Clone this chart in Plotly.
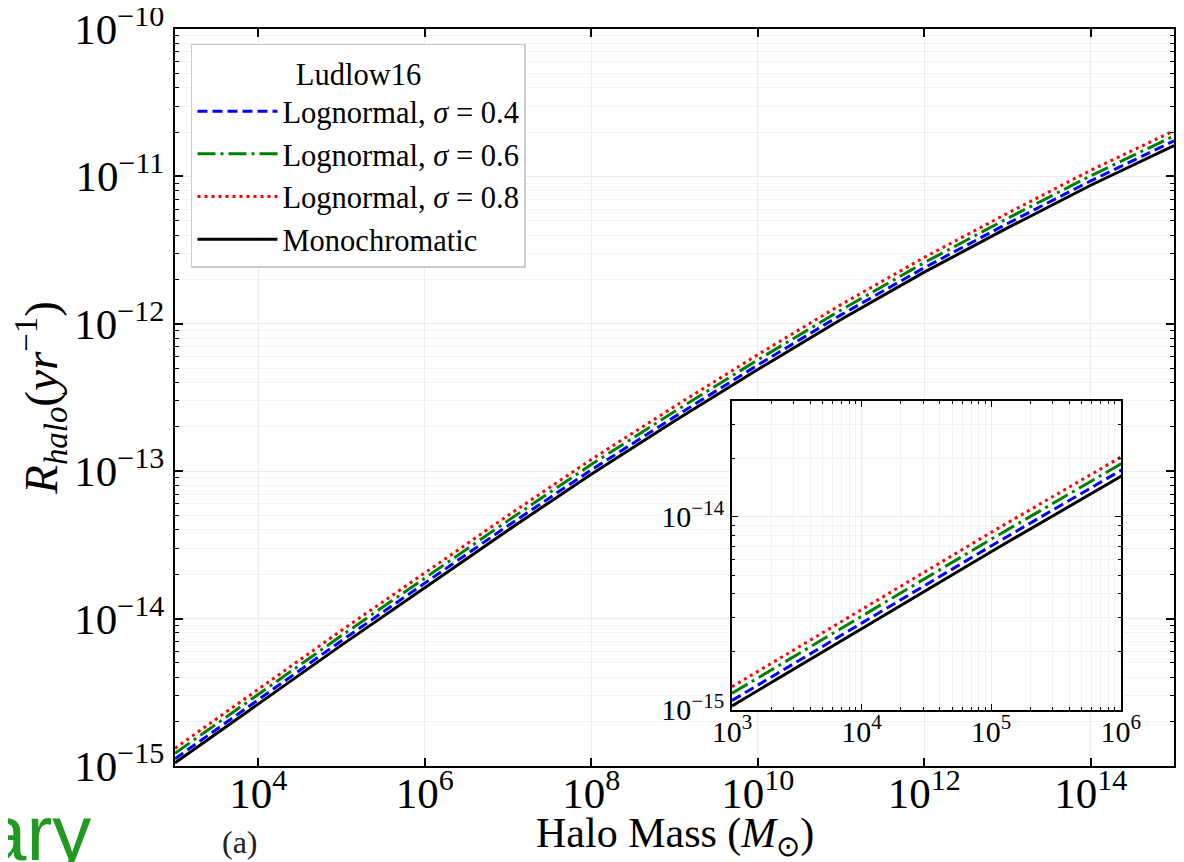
import plotly.graph_objects as go

# ---------------- data ----------------
halo_mass = [1e3, 1e4, 1e5, 1e6, 1e7, 1e8, 1e9, 1e10, 1e11, 1e12, 1e13, 1e14, 1e15]
rate_lognormal_04 = [1.12e-15, 2.82e-15, 7.08e-15, 1.74e-14, 4.27e-14, 1.02e-13, 2.34e-13,
                     5.25e-13, 1.15e-12, 2.40e-12, 4.79e-12, 9.33e-12, 1.74e-11]
rate_lognormal_06 = [1.22e-15, 3.05e-15, 7.67e-15, 1.88e-14, 4.62e-14, 1.11e-13, 2.54e-13,
                     5.69e-13, 1.24e-12, 2.60e-12, 5.19e-12, 1.01e-11, 1.88e-11]
rate_lognormal_08 = [1.32e-15, 3.31e-15, 8.32e-15, 2.04e-14, 5.01e-14, 1.20e-13, 2.75e-13,
                     6.17e-13, 1.35e-12, 2.82e-12, 5.62e-12, 1.10e-11, 2.04e-11]
rate_mono = [1.05e-15, 2.63e-15, 6.61e-15, 1.62e-14, 3.98e-14, 9.55e-14, 2.19e-13,
             4.90e-13, 1.07e-12, 2.24e-12, 4.47e-12, 8.71e-12, 1.62e-11]

series_names = ["Lognormal, <i>σ</i> = 0.4", "Lognormal, <i>σ</i> = 0.6",
                "Lognormal, <i>σ</i> = 0.8", "Monochromatic"]
legend_title = "Ludlow16"
x_title = "Halo Mass (<i>M</i><sub>⊙</sub>)"
y_title = "<i>R</i><sub><i>halo</i></sub>(<i>yr</i><sup>−1</sup>)"

main_xtick_vals = [1e4, 1e6, 1e8, 1e10, 1e12, 1e14]
main_xtick_text = ["10<sup>4</sup>", "10<sup>6</sup>", "10<sup>8</sup>",
                   "10<sup>10</sup>", "10<sup>12</sup>", "10<sup>14</sup>"]
main_ytick_vals = [1e-15, 1e-14, 1e-13, 1e-12, 1e-11, 1e-10]
main_ytick_text = ["10<sup>−15</sup>", "10<sup>−14</sup>", "10<sup>−13</sup>",
                   "10<sup>−12</sup>", "10<sup>−11</sup>", "10<sup>−10</sup>"]
inset_xtick_vals = [1e3, 1e4, 1e5, 1e6]
inset_xtick_text = ["10<sup>3</sup>", "10<sup>4</sup>", "10<sup>5</sup>", "10<sup>6</sup>"]
inset_ytick_vals = [1e-15, 1e-14]
inset_ytick_text = ["10<sup>−15</sup>", "10<sup>−14</sup>"]

# minor tick positions (2..9 x 10^n)
main_y_minor = [k * 10.0 ** n for n in range(-15, -10) for k in range(2, 10)]
inset_x_minor = [k * 10.0 ** n for n in range(3, 6) for k in range(2, 10)]
inset_y_minor = [k * 10.0 ** n for n in range(-15, -13) for k in range(2, 10)]

# ---------------- styles ----------------
FONT = "Liberation Serif"
styles = [
    dict(color="#0000ff", width=3, dash="10px,5px"),
    dict(color="#008000", width=3, dash="18px,5px,3px,5px"),
    dict(color="#ff0000", width=3, dash="3px,4px"),
    dict(color="#000000", width=3, dash="solid"),
]
series = [rate_lognormal_04, rate_lognormal_06, rate_lognormal_08, rate_mono]

fig = go.Figure()
for name, ys, st in zip(series_names, series, styles):
    fig.add_trace(go.Scatter(x=halo_mass, y=ys, mode="lines", name=name, line=st,
                             xaxis="x", yaxis="y", showlegend=True))
for name, ys, st in zip(series_names, series, styles):
    fig.add_trace(go.Scatter(x=halo_mass, y=ys, mode="lines", name=name, line=st,
                             xaxis="x2", yaxis="y2", showlegend=False))

grid_major = "#ececec"
grid_minor = "#f3f3f3"

fig.update_layout(
    width=1184, height=862,
    margin=dict(l=167, r=18, t=21, b=104),
    paper_bgcolor="white", plot_bgcolor="white",
    font=dict(family=FONT, color="black"),
    showlegend=True,
    legend=dict(
        x=0.016, y=0.98, xanchor="left", yanchor="top",
        bgcolor="rgba(255,255,255,0.85)", bordercolor="#cccccc", borderwidth=1.5,
        font=dict(family=FONT, size=30.5, color="black"),
        title=dict(text=legend_title, side="top center",
                   font=dict(family=FONT, size=30.5, color="black")),
        itemwidth=80, tracegroupgap=0,
    ),
    xaxis=dict(
        type="log", range=[3, 15], domain=[0, 1], automargin=False,
        tickmode="array", tickvals=main_xtick_vals, ticktext=main_xtick_text,
        ticks="inside", ticklen=8, tickwidth=1.5, tickcolor="black",
        showline=True, linecolor="black", linewidth=2, mirror="ticks",
        showgrid=True, gridcolor=grid_major, gridwidth=1,
        tickfont=dict(family=FONT, size=43, color="black"),
        ticklabeloverflow="allow", ticklabelstandoff=-12,
        zeroline=False, anchor="y",
    ),
    yaxis=dict(
        type="log", range=[-15, -10], domain=[0, 1], automargin=False,
        tickmode="array", tickvals=main_ytick_vals, ticktext=main_ytick_text,
        ticks="inside", ticklen=8, tickwidth=1.5, tickcolor="black",
        showline=True, linecolor="black", linewidth=2, mirror="ticks",
        showgrid=True, gridcolor=grid_major, gridwidth=1,
        minor=dict(tickmode="array", tickvals=main_y_minor, ticks="inside",
                   ticklen=4, tickwidth=1, tickcolor="black",
                   showgrid=True, gridcolor=grid_minor, gridwidth=1),
        tickfont=dict(family=FONT, size=43, color="black"),
        ticklabeloverflow="allow",
        title=dict(text=y_title, font=dict(family=FONT, size=47, color="black"), standoff=4),
        zeroline=False, anchor="x",
    ),
    xaxis2=dict(
        type="log", range=[3, 6.003], domain=[0.5576, 0.947], automargin=False,
        tickmode="array", tickvals=inset_xtick_vals, ticktext=inset_xtick_text,
        ticks="inside", ticklen=6, tickwidth=1.2, tickcolor="black",
        showline=True, linecolor="black", linewidth=1.8, mirror="ticks",
        showgrid=True, gridcolor=grid_major, gridwidth=1,
        minor=dict(tickmode="array", tickvals=inset_x_minor, ticks="inside",
                   ticklen=3, tickwidth=1, tickcolor="black",
                   showgrid=True, gridcolor=grid_minor, gridwidth=1),
        tickfont=dict(family=FONT, size=30, color="black"),
        ticklabeloverflow="allow", ticklabelstandoff=-6,
        zeroline=False, anchor="y2",
    ),
    yaxis2=dict(
        type="log", range=[-15, -13.4], domain=[0.076, 0.495], automargin=False,
        tickmode="array", tickvals=inset_ytick_vals, ticktext=inset_ytick_text,
        ticks="inside", ticklen=6, tickwidth=1.2, tickcolor="black",
        showline=True, linecolor="black", linewidth=1.8, mirror="ticks",
        showgrid=True, gridcolor=grid_major, gridwidth=1,
        minor=dict(tickmode="array", tickvals=inset_y_minor, ticks="inside",
                   ticklen=3, tickwidth=1, tickcolor="black",
                   showgrid=True, gridcolor=grid_minor, gridwidth=1),
        tickfont=dict(family=FONT, size=30, color="black"),
        ticklabeloverflow="allow",
        zeroline=False, anchor="x2",
    ),
    annotations=[
        dict(text=x_title, xref="paper", yref="paper", x=0.5,
             y=(766 - 836) / 737, xanchor="center", yanchor="middle", showarrow=False,
             font=dict(family=FONT, size=42, color="black")),
        dict(text="(a)", xref="paper", yref="paper", x=(240 - 175) / 999,
             y=(766 - 842) / 737, xanchor="center", yanchor="middle", showarrow=False,
             font=dict(family=FONT, size=32, color="#222222")),
        dict(text="ary", xref="paper", yref="paper", x=(93 - 175) / 999,
             y=(766 - 787) / 737, xanchor="right", yanchor="top", showarrow=False,
             font=dict(family="Liberation Sans", size=78, color="#229922")),
    ],
)

fig.write_html("out.html")
